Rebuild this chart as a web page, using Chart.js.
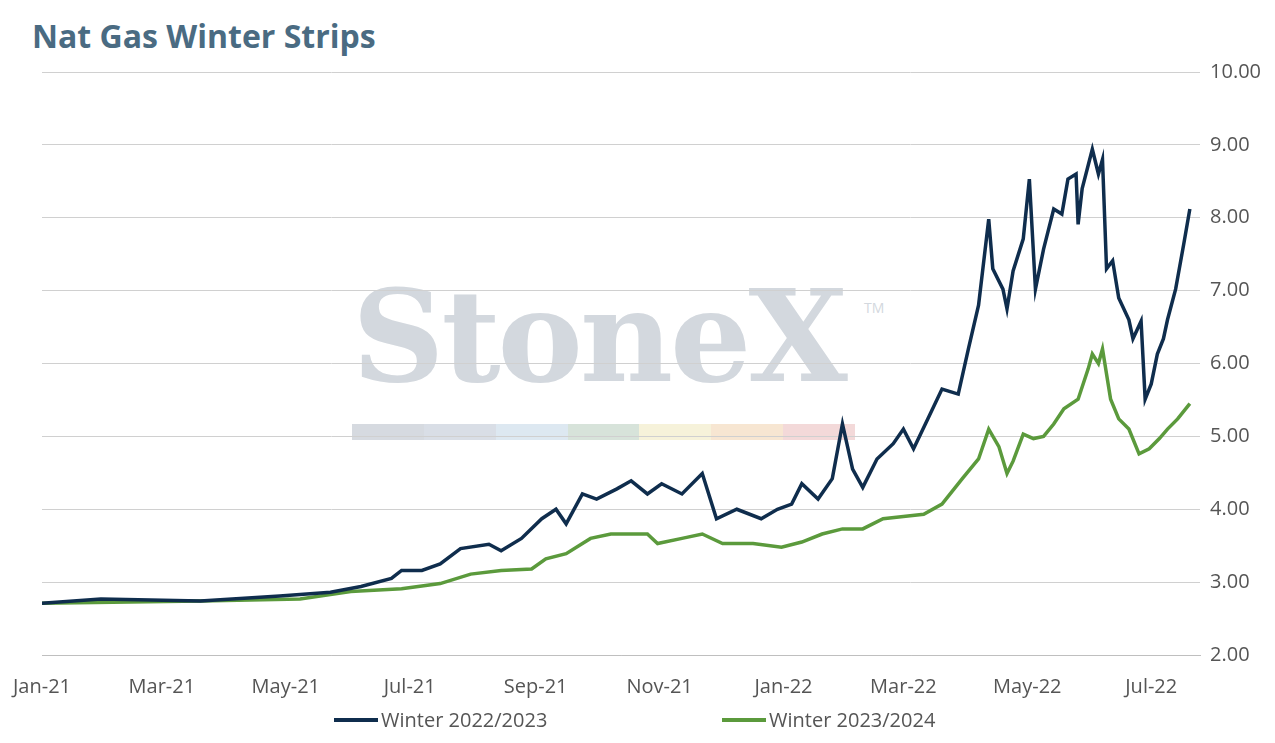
<!DOCTYPE html>
<html>
<head>
<meta charset="utf-8">
<script src="https://cdn.jsdelivr.net/npm/chart.js@4"></script>
<style>
  body { margin: 0; background: #fff; font-family: "Open Sans", "Noto Sans", sans-serif; }
  #wrap { position: relative; width: 1275px; height: 743px; }
  #title { position: absolute; left: 32px; top: 14px; font-size: 32px; font-weight: 700; color: #4a6b82; }
  #mark { position: absolute; left: 352px; top: 268px; width: 510px; height: 170px; }
  #mark .word { font-family: "DejaVu Serif", serif; font-size: 128px; font-weight: 700; color: #d3d8de; line-height: 136px; letter-spacing: -3px; }
  #mark .tm { position: absolute; left: 512px; top: 30px; font-size: 14px; color: #d3d8de; }
  #mark .bar { display: flex; height: 16px; margin-top: 20px; width: 503px; }
  #mark .bar div { flex: 1; }
  #box { position: absolute; left: 0; top: 50px; width: 1275px; height: 693px; }
  .leg { position: absolute; top: 706px; font-size: 20px; color: #555; display: flex; align-items: center; }
  .leg span { display: inline-block; width: 44px; height: 4px; margin-right: 3px; }
</style>
</head>
<body>
<div id="wrap">
  <div id="title">Nat Gas Winter Strips</div>
  <div id="mark">
    <div class="word">StoneX</div><div class="tm">TM</div>
    <div class="bar">
      <div style="background:#d6dae0"></div><div style="background:#d9dee6"></div><div style="background:#dde8f1"></div>
      <div style="background:#d7e3da"></div><div style="background:#f6f2da"></div><div style="background:#f7e6d2"></div>
      <div style="background:#f3d9d9"></div>
    </div>
  </div>
  <div id="box"><canvas id="c"></canvas></div>
  <div class="leg" style="left:334px"><span style="background:#0f2d4d"></span>Winter 2022/2023</div>
  <div class="leg" style="left:722px"><span style="background:#5b9a3c"></span>Winter 2023/2024</div>
</div>
<script>
// days since 2021-01-01
const monthTicks = [0, 59, 120, 181, 243, 304, 365, 424, 485, 546];
const monthLabels = ['Jan-21', 'Mar-21', 'May-21', 'Jul-21', 'Sep-21', 'Nov-21', 'Jan-22', 'Mar-22', 'May-22', 'Jul-22'];

const w22Days = [0, 29, 78, 117, 142, 157, 172, 177, 187, 196, 206, 220, 226, 236, 246, 253, 258, 266, 273, 283, 290, 298, 305, 315, 325, 332, 342, 354, 362, 369, 374, 382, 389, 394, 399, 404, 411, 419, 424, 429, 436, 443, 451, 456, 461, 466, 468, 473, 475, 478, 483, 486, 489, 493, 498, 502, 505, 509, 510, 512, 517, 520, 522, 524, 527, 530, 535, 537, 541, 543, 546, 549, 552, 554, 558, 562, 565];
const w22Vals = [2.71, 2.77, 2.74, 2.81, 2.86, 2.94, 3.05, 3.16, 3.16, 3.25, 3.46, 3.52, 3.43, 3.60, 3.87, 4.00, 3.80, 4.21, 4.14, 4.28, 4.39, 4.21, 4.35, 4.21, 4.49, 3.87, 4.00, 3.87, 4.00, 4.07, 4.35, 4.14, 4.42, 5.17, 4.55, 4.30, 4.69, 4.90, 5.10, 4.83, 5.24, 5.65, 5.58, 6.20, 6.80, 7.98, 7.30, 7.02, 6.75, 7.27, 7.71, 8.53, 7.02, 7.57, 8.12, 8.05, 8.53, 8.60, 7.91, 8.40, 8.94, 8.60, 8.80, 7.30, 7.41, 6.90, 6.60, 6.34, 6.58, 5.51, 5.72, 6.13, 6.34, 6.60, 7.02, 7.64, 8.12];

const w23Days = [0, 78, 127, 152, 177, 196, 211, 226, 241, 248, 258, 270, 280, 290, 298, 303, 315, 325, 335, 350, 364, 374, 384, 394, 404, 414, 424, 434, 443, 453, 461, 466, 471, 475, 478, 483, 488, 493, 498, 503, 510, 515, 517, 520, 522, 526, 530, 535, 540, 545, 550, 554, 559, 565];
const w23Vals = [2.71, 2.74, 2.77, 2.87, 2.91, 2.98, 3.11, 3.16, 3.18, 3.32, 3.39, 3.60, 3.66, 3.66, 3.66, 3.53, 3.60, 3.66, 3.53, 3.53, 3.48, 3.55, 3.66, 3.73, 3.73, 3.87, 3.90, 3.93, 4.07, 4.42, 4.69, 5.10, 4.86, 4.49, 4.66, 5.03, 4.97, 5.00, 5.17, 5.38, 5.51, 5.93, 6.13, 6.00, 6.20, 5.51, 5.24, 5.10, 4.76, 4.83, 4.97, 5.10, 5.24, 5.45];

const pts = (d, v) => d.map((x, i) => ({ x, y: v[i] }));

new Chart(document.getElementById('c'), {
  type: 'line',
  data: {
    datasets: [
      { label: 'Winter 2022/2023', data: pts(w22Days, w22Vals), borderColor: '#0f2d4d', borderWidth: 3.5, pointRadius: 0, tension: 0 },
      { label: 'Winter 2023/2024', data: pts(w23Days, w23Vals), borderColor: '#5b9a3c', borderWidth: 3.5, pointRadius: 0, tension: 0 },
    ],
  },
  options: {
    responsive: true,
    maintainAspectRatio: false,
    animation: false,
    layout: { padding: { left: 42, right: 4, top: 2, bottom: 32 } },
    plugins: { legend: { display: false }, tooltip: { enabled: false } },
    scales: {
      x: {
        type: 'linear', min: 0, max: 570,
        afterBuildTicks: (s) => { s.ticks = monthTicks.map(v => ({ value: v })); },
        ticks: { color: '#555', font: { size: 20, family: 'Open Sans' }, maxRotation: 0, padding: 12, callback: (v) => monthLabels[monthTicks.indexOf(v)] },
        grid: { display: false },
        border: { color: '#bfbfbf' },
      },
      y: {
        position: 'right', min: 2, max: 10,
        ticks: { stepSize: 1, color: '#555', font: { size: 20, family: 'Open Sans' }, padding: 10, callback: (v) => v.toFixed(2) },
        grid: { color: '#d0d0d0', drawTicks: false },
        border: { display: false },
      },
    },
  },
});
</script>
</body>
</html>
